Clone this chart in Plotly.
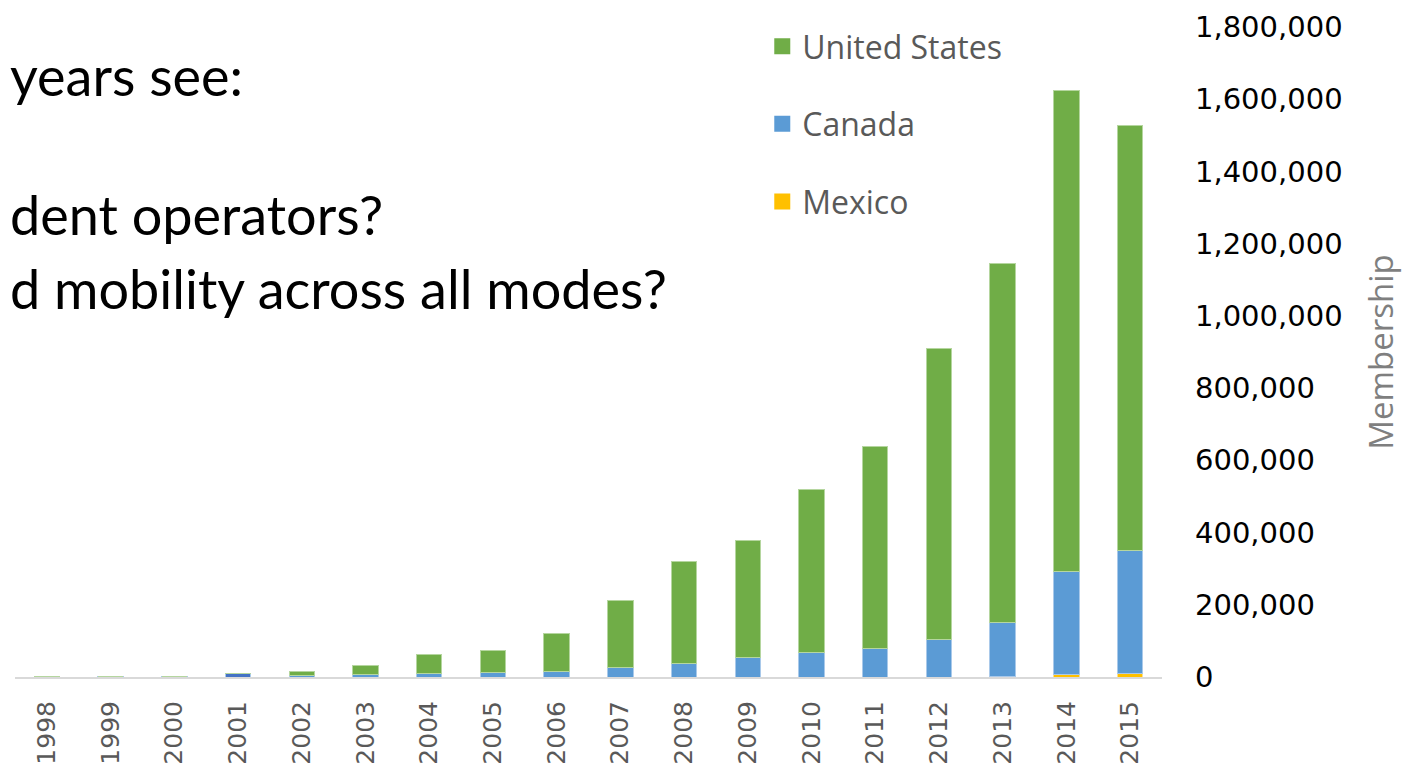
import plotly.graph_objects as go

years = [str(y) for y in range(1998, 2016)]
mexico = [0, 0, 0, 0, 0, 0, 0, 0, 0, 0, 0, 0, 0, 0, 0, 2000, 7000, 11000]
canada = [2000, 2000, 2000, 10000, 4000, 7500, 10000, 12000, 14000, 26000, 37000,
          53000, 67000, 78000, 103000, 148000, 285000, 340000]
totals = [2000, 2000, 2000, 10000, 16000, 31000, 62500, 73500, 121000, 212000, 320000,
          377000, 518000, 639000, 909000, 1146000, 1623000, 1526000]
united_states = [t - c - m for t, c, m in zip(totals, canada, mexico)]

y_ticks = list(range(0, 1800001, 200000))
y_tick_labels = [f"{v:,}" for v in y_ticks]

series = [
    ("Mexico", mexico, "#FFC000", "#FFE08A", 3),
    ("Canada", canada, "#5B9BD5", "#A9C9EA", 2),
    ("United States", united_states, "#70AD47", "#B5D69F", 1),
]

fig = go.Figure()
for name, vals, col, edge, rank in series:
    colors = [col] * len(years)
    if name == "Canada":
        colors[3] = "#4472C4"
    fig.add_trace(go.Bar(x=years, y=vals, name=name, showlegend=False,
                         marker=dict(color=colors, line=dict(color=edge, width=1))))
# legend entries (square swatches, no data points)
for name, vals, col, edge, rank in series:
    fig.add_trace(go.Scatter(x=[None], y=[None], mode="markers", name=name,
                             legendgroup=name, legendrank=rank,
                             marker=dict(symbol="square", size=21, color=col)))

# page has an 8px body margin; margins below compensate for it
PLOT_TOP, PLOT_BOTTOM = 19, 669
PLOT_H = PLOT_BOTTOM - PLOT_TOP

fig.update_layout(
    width=1410, height=779,
    barmode="stack", bargap=0.6,
    plot_bgcolor="white", paper_bgcolor="white",
    margin=dict(l=7, r=256, t=PLOT_TOP, b=779 - PLOT_BOTTOM),
    font=dict(family="DejaVu Sans", color="#000000"),
    showlegend=True,
    legend=dict(x=0.6515, y=1.0125, xanchor="left", yanchor="top",
                traceorder="grouped", tracegroupgap=33, itemwidth=30,
                font=dict(family="Open Sans", size=32, color="#595959"),
                bgcolor="rgba(0,0,0,0)"),
    xaxis=dict(type="category", tickangle=-90, showgrid=False, automargin=False,
               showline=True, linecolor="#D9D9D9", linewidth=2,
               ticks="", ticklabelstandoff=12,
               tickfont=dict(family="DejaVu Sans", size=25, color="#595959")),
    yaxis=dict(side="right", range=[0, 1800000], tickvals=y_ticks, ticktext=y_tick_labels,
               showgrid=False, zeroline=False, showline=False, ticks="", automargin=False,
               ticklabelstandoff=32, ticklabeloverflow="allow",
               tickfont=dict(family="DejaVu Sans", size=29, color="#000000"),
               title=dict(text="Membership", standoff=28,
                          font=dict(family="Liberation Sans Narrow, Open Sans", size=33, color="#7F7F7F"))),
)

slide_lines = [("years see:", 75), ("dent operators?", 215), ("d mobility across all modes?", 288)]
for txt, ypix in slide_lines:
    fig.add_annotation(text=txt, xref="paper", yref="paper",
                       x=0, y=(PLOT_BOTTOM - (ypix - 8)) / PLOT_H, xanchor="left", yanchor="middle",
                       xshift=-7, showarrow=False,
                       font=dict(family="Lato", size=54, color="#000000"))

fig.write_html("out.html")
